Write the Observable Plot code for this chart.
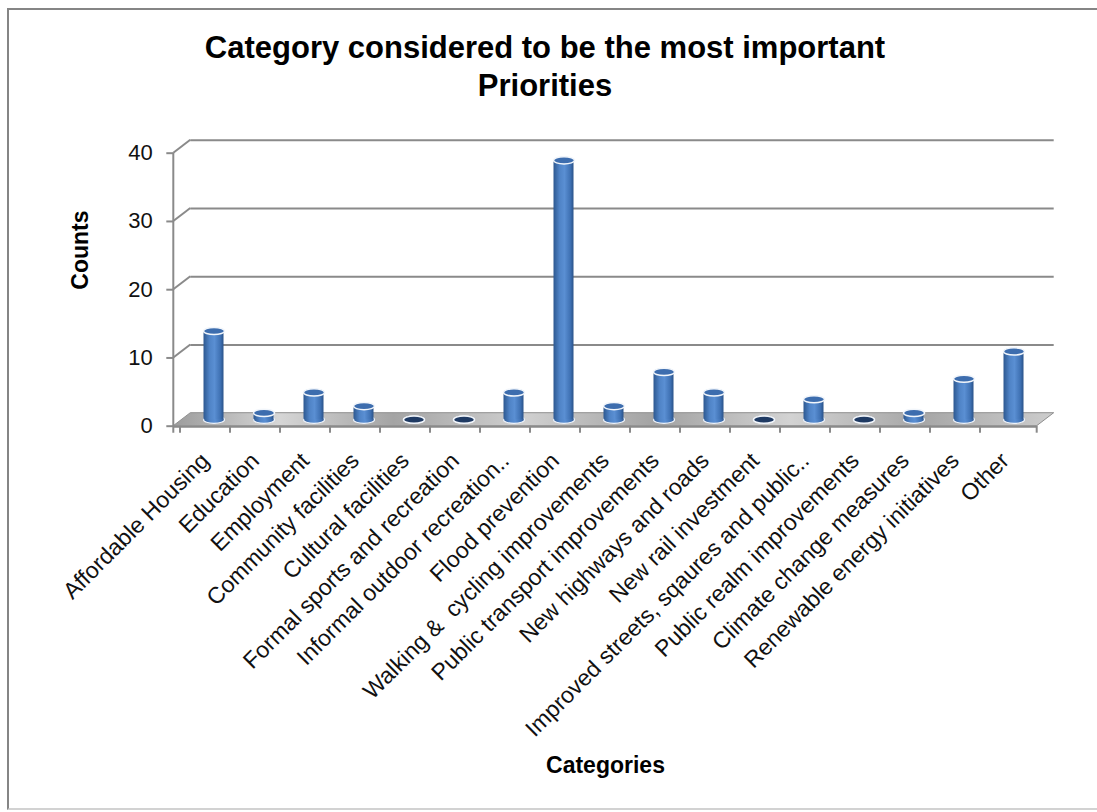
<!DOCTYPE html>
<html><head><meta charset="utf-8">
<script src="https://cdn.jsdelivr.net/npm/d3@7"></script>
<script src="https://cdn.jsdelivr.net/npm/@observablehq/plot@0.6"></script>
<style>
body{margin:0;background:#fff;font-family:"Liberation Sans",Arial,sans-serif;}
#wrap{position:relative;width:1097px;height:812px;overflow:hidden;background:#fff;}
#frame{position:absolute;left:7px;top:8px;width:1100px;height:798px;border-top:2px solid #858585;border-left:2px solid #858585;border-bottom:2px solid #d2d2d2;pointer-events:none;}
#title{height:118px;box-sizing:border-box;padding-top:29px;width:1090px;text-align:center;font-weight:bold;font-size:31px;line-height:38px;color:#000;}
#chart svg{display:block;}
</style></head><body>
<div id="wrap"><div id="frame"></div>
<div id="title">Category considered to be the most important<br>Priorities</div>
<div id="chart"></div></div>
<script>
const categories = ["Affordable Housing","Education","Employment","Community facilities","Cultural facilities","Formal sports and recreation","Informal outdoor recreation..","Flood prevention","Walking &  cycling improvements","Public transport improvements","New highways and roads","New rail investment","Improved streets, sqaures and public..","Public realm improvements","Climate change measures","Renewable energy initiatives","Other"];
const counts = [13,1,4,2,0,0,4,38,2,7,4,0,3,0,1,6,10];
const yTicks = [0,10,20,30,40];
const yTitle = "Counts";
const xTitle = "Categories";

const data = categories.map((c, i) => ({category: c, count: counts[i]}));
const BACK = {dx: 17, dy: -13};
const MID = {dx: 8.5, dy: -6.5};

const ellipse = {draw(ctx) {
  const rx = 10.5, ry = 3.6, k = 0.5523;
  ctx.moveTo(-rx, 0);
  ctx.bezierCurveTo(-rx, -ry*k, -rx*k, -ry, 0, -ry);
  ctx.bezierCurveTo(rx*k, -ry, rx, -ry*k, rx, 0);
  ctx.bezierCurveTo(rx, ry*k, rx*k, ry, 0, ry);
  ctx.bezierCurveTo(-rx*k, ry, -rx, ry*k, -rx, 0);
  ctx.closePath();
}};

function frame3d(index, scales, values, dims) {
  const x0 = dims.marginLeft, x1 = dims.width - dims.marginRight;
  const y0 = scales.y(0);
  const g = d3.create("svg:g");
  for (const t of yTicks) if (t > 0) {
    g.append("line").attr("x1", x0).attr("y1", scales.y(t)).attr("x2", x0 + BACK.dx).attr("y2", scales.y(t) + BACK.dy)
      .attr("stroke", "#8a8a8a").attr("stroke-width", 2);
  }
  g.append("path")
    .attr("d", `M${x0},${y0}L${x0 + BACK.dx},${y0 + BACK.dy}L${x1 + BACK.dx},${y0 + BACK.dy}L${x1},${y0}Z`)
    .attr("fill", "url(#floorGrad)").attr("stroke", "#8f8f8f").attr("stroke-width", 1);
  g.append("line").attr("x1", x0).attr("x2", x1).attr("y1", y0 + 1).attr("y2", y0 + 1).attr("stroke", "#8a8a8a").attr("stroke-width", 2);
  g.append("line").attr("x1", x0).attr("x2", x0).attr("y1", scales.y(yTicks[yTicks.length - 1])).attr("y2", y0 + 7)
    .attr("stroke", "#8a8a8a").attr("stroke-width", 2);
  const bounds = categories.map(c => scales.x(c)).concat([x1]);
  for (const b of bounds) {
    g.append("line").attr("x1", b).attr("x2", b).attr("y1", y0).attr("y2", y0 + 7).attr("stroke", "#8a8a8a").attr("stroke-width", 2);
  }
  return g.node();
}

const chart = Plot.plot({
  width: 1097,
  height: 694,
  marginLeft: 173.3,
  marginRight: 60.3,
  marginTop: 34.7,
  marginBottom: 386.3,
  style: {fontFamily: "'Liberation Sans', Arial, sans-serif", fontSize: "22px", color: "#111", background: "transparent", overflow: "visible"},
  x: {type: "band", domain: categories, padding: 0, axis: null},
  y: {domain: [0, 40], axis: null},
  marks: [
    Plot.ruleY(yTicks.filter(t => t > 0), {dx: BACK.dx, dy: BACK.dy, stroke: "#8a8a8a", strokeWidth: 2}),
    frame3d,
    Plot.dot(data, {x: "category", y: () => 0, symbol: ellipse, dx: MID.dx, dy: MID.dy, fill: "url(#barGrad)", stroke: "#eef3fa", strokeWidth: 1.2}),
    Plot.barY(data, {x: "category", y: "count", dx: MID.dx, dy: MID.dy, insetLeft: 15, insetRight: 15, fill: "url(#barGrad)"}),
    Plot.dot(data, {x: "category", y: "count", symbol: ellipse, dx: MID.dx, dy: MID.dy, fill: d => d.count === 0 ? "#1f3a63" : "#3d6dae", stroke: "#f2f6fb", strokeWidth: 1.5}),
    Plot.axisY(yTicks, {tickSize: 7, tickPadding: 14, fontSize: 22, stroke: "#8a8a8a", strokeWidth: 2, fill: "#111", label: null}),
    Plot.text(data, {x: "category", text: "category", frameAnchor: "bottom", rotate: -45, textAnchor: "end", lineAnchor: "bottom", dx: 5, dy: 36, fontSize: 23, fill: "#111"}),
    Plot.text([yTitle], {frameAnchor: "left", rotate: -90, dx: -93, fontSize: 23, fontWeight: "bold", fill: "#000"}),
    Plot.text([xTitle], {frameAnchor: "bottom", dy: 347, fontSize: 23, fontWeight: "bold", fill: "#000"})
  ]
});

const defs = `<defs>
<linearGradient id="barGrad" x1="0" y1="0" x2="1" y2="0">
<stop offset="0" stop-color="#2d5890"/><stop offset="0.3" stop-color="#4f83c6"/><stop offset="0.55" stop-color="#5a8fd3"/><stop offset="0.85" stop-color="#3e70b2"/><stop offset="1" stop-color="#2a5288"/>
</linearGradient>
<linearGradient id="floorGrad" x1="0" y1="0" x2="1" y2="0">
<stop offset="0" stop-color="#9c9c9c"/><stop offset="0.12" stop-color="#d6d6d6"/><stop offset="0.25" stop-color="#a4a4a4"/><stop offset="0.4" stop-color="#d0d0d0"/><stop offset="0.55" stop-color="#a2a2a2"/><stop offset="0.7" stop-color="#d3d3d3"/><stop offset="0.85" stop-color="#a6a6a6"/><stop offset="1" stop-color="#cdcdcd"/>
</linearGradient></defs>`;
chart.insertAdjacentHTML("afterbegin", defs);
document.getElementById("chart").appendChild(chart);
</script>
</body></html>
